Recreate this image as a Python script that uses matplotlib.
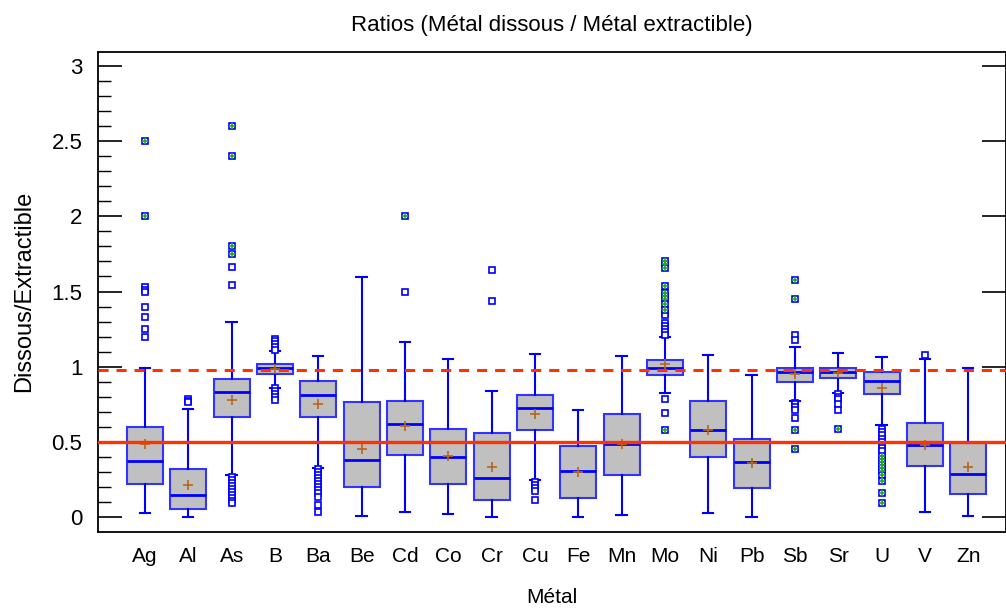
import matplotlib
matplotlib.use("Agg")
import matplotlib.pyplot as plt
import numpy as np
from matplotlib.ticker import MultipleLocator

metaux = ["Ag", "Al", "As", "B", "Ba", "Be", "Cd", "Co", "Cr", "Cu",
          "Fe", "Mn", "Mo", "Ni", "Pb", "Sb", "Sr", "U", "V", "Zn"]

q1 = [0.219, 0.053, 0.667, 0.950, 0.667, 0.200, 0.412, 0.219, 0.113, 0.583,
      0.126, 0.281, 0.944, 0.401, 0.193, 0.901, 0.927, 0.822, 0.339, 0.153]
mediane = [0.374, 0.148, 0.835, 0.994, 0.815, 0.381, 0.620, 0.401, 0.261, 0.729,
           0.306, 0.487, 0.994, 0.580, 0.368, 0.963, 0.963, 0.908, 0.478, 0.288]
q3 = [0.602, 0.321, 0.921, 1.017, 0.908, 0.769, 0.775, 0.587, 0.560, 0.815,
      0.474, 0.689, 1.047, 0.775, 0.518, 0.994, 0.994, 0.963, 0.629, 0.496]
moust_bas = [0.027, 0.000, 0.281, 0.862, 0.326, 0.007, 0.038, 0.020, 0.000, 0.246,
             0.000, 0.013, 0.824, 0.027, 0.000, 0.775, 0.828, 0.614, 0.038, 0.007]
moust_haut = [0.993, 0.722, 1.296, 1.107, 1.070, 1.597, 1.163, 1.054, 0.842, 1.087,
              0.713, 1.070, 1.196, 1.081, 0.944, 1.129, 1.094, 1.063, 1.054, 0.994]
moyenne = [0.485, 0.217, 0.780, 0.985, 0.753, 0.454, 0.609, 0.410, 0.332, 0.687,
           0.301, 0.490, 1.017, 0.580, 0.363, 0.952, 0.959, 0.862, 0.478, 0.337]

# valeurs aberrantes (proches) et extremes (lointaines)
aberrants = [
    [1.528, 1.51, 1.495, 1.398, 1.331, 1.249, 1.196],
    [0.786, 0.775, 0.765],
    [1.663, 1.544, 0.27, 0.25, 0.23, 0.21, 0.19, 0.17, 0.15, 0.13, 0.11, 0.095],
    [1.187, 1.17, 1.15, 1.13, 1.115, 0.857, 0.84, 0.82, 0.80, 0.78],
    [0.319, 0.30, 0.28, 0.26, 0.24, 0.22, 0.20, 0.18, 0.16, 0.137, 0.082, 0.038],
    [],
    [1.497],
    [],
    [1.646, 1.437],
    [0.233, 0.215, 0.197, 0.175, 0.113],
    [],
    [],
    [1.36, 1.345, 1.29, 1.27, 1.25, 1.23, 1.21, 0.784, 0.695],
    [],
    [],
    [1.21, 1.18, 0.762, 0.75, 0.73, 0.713, 0.66],
    [0.817, 0.80, 0.785, 0.75, 0.713],
    [0.59, 0.57, 0.55, 0.52, 0.50, 0.48, 0.46, 0.44],
    [1.076],
    [],
]
extremes = [
    [2.5, 2.0],
    [],
    [2.6, 2.4, 1.80, 1.75],
    [],
    [],
    [],
    [2.0],
    [],
    [],
    [],
    [],
    [],
    [1.70, 1.68, 1.655, 1.537, 1.49, 1.47, 1.45, 1.42, 1.38, 0.58],
    [],
    [],
    [1.577, 1.448, 0.58, 0.454],
    [0.587],
    [0.41, 0.39, 0.37, 0.35, 0.33, 0.31, 0.28, 0.24, 0.16, 0.093],
    [],
    [],
]

ligne_pleine = 0.5
ligne_tiret = 0.98

plt.rcParams['font.family'] = ['Liberation Sans', 'DejaVu Sans']

fig = plt.figure(figsize=(10.06, 6.08), dpi=100)
ax = fig.add_axes([0.0971, 0.1255, 0.9029, 0.7895])

bleu = "#0000FF"
stats = []
for i, m in enumerate(metaux):
    stats.append(dict(label=m, q1=q1[i], med=mediane[i], q3=q3[i],
                      whislo=moust_bas[i], whishi=moust_haut[i],
                      mean=moyenne[i], fliers=aberrants[i] + extremes[i]))

pos = np.arange(len(metaux))
ax.bxp(stats, positions=pos, widths=0.83, patch_artist=True, showmeans=True,
       boxprops=dict(facecolor="#C0C0C0", edgecolor="#3333FF", linewidth=1.5),
       medianprops=dict(color=bleu, linewidth=2),
       whiskerprops=dict(color=bleu, linewidth=1.5),
       capprops=dict(color=bleu, linewidth=1.5),
       capwidths=0.24,
       meanprops=dict(marker="+", markeredgecolor="#B5651D", markersize=7,
                      markeredgewidth=1.2),
       flierprops=dict(marker="s", markerfacecolor="white", markeredgecolor=bleu,
                       markersize=4.5, markeredgewidth=1.2, linestyle="none"))

for i in range(len(metaux)):
    if extremes[i]:
        ax.plot([pos[i]] * len(extremes[i]), extremes[i], linestyle="none",
                marker="+", color="#22AA22", markersize=5, markeredgewidth=1.2,
                zorder=5)

ax.axhline(ligne_pleine, color="#FF3300", linewidth=2.4, zorder=4)
ax.axhline(ligne_tiret, color="#FF3300", linewidth=2.2, linestyle=(0, (3.3, 2.6)),
           zorder=4)

ax.set_xlim(-1.09, 19.87)
ax.set_ylim(-0.095, 3.093)
ax.set_xticks(pos)
ax.set_xticklabels(metaux, fontsize=15)
ax.tick_params(axis="x", length=0, pad=11)
ax.yaxis.set_major_locator(MultipleLocator(0.5))
ax.yaxis.set_minor_locator(MultipleLocator(0.1))
ax.set_yticks([0, 0.5, 1, 1.5, 2, 2.5, 3])
ax.set_yticklabels(["0", "0.5", "1", "1.5", "2", "2.5", "3"], fontsize=16)
ax.tick_params(axis="y", which="major", direction="in", length=17, width=1.2,
               right=True, labelsize=16, pad=11)
ax.tick_params(axis="y", which="minor", direction="in", length=9, width=1.0)
for s in ax.spines.values():
    s.set_linewidth(1.3)

ax.set_title("Ratios (Métal dissous / Métal extractible)", fontsize=16, pad=15)
ax.set_xlabel("Métal", fontsize=15, labelpad=16)
ax.set_ylabel("Dissous/Extractible", fontsize=17, labelpad=12)

fig.savefig("out.png", dpi=100)
